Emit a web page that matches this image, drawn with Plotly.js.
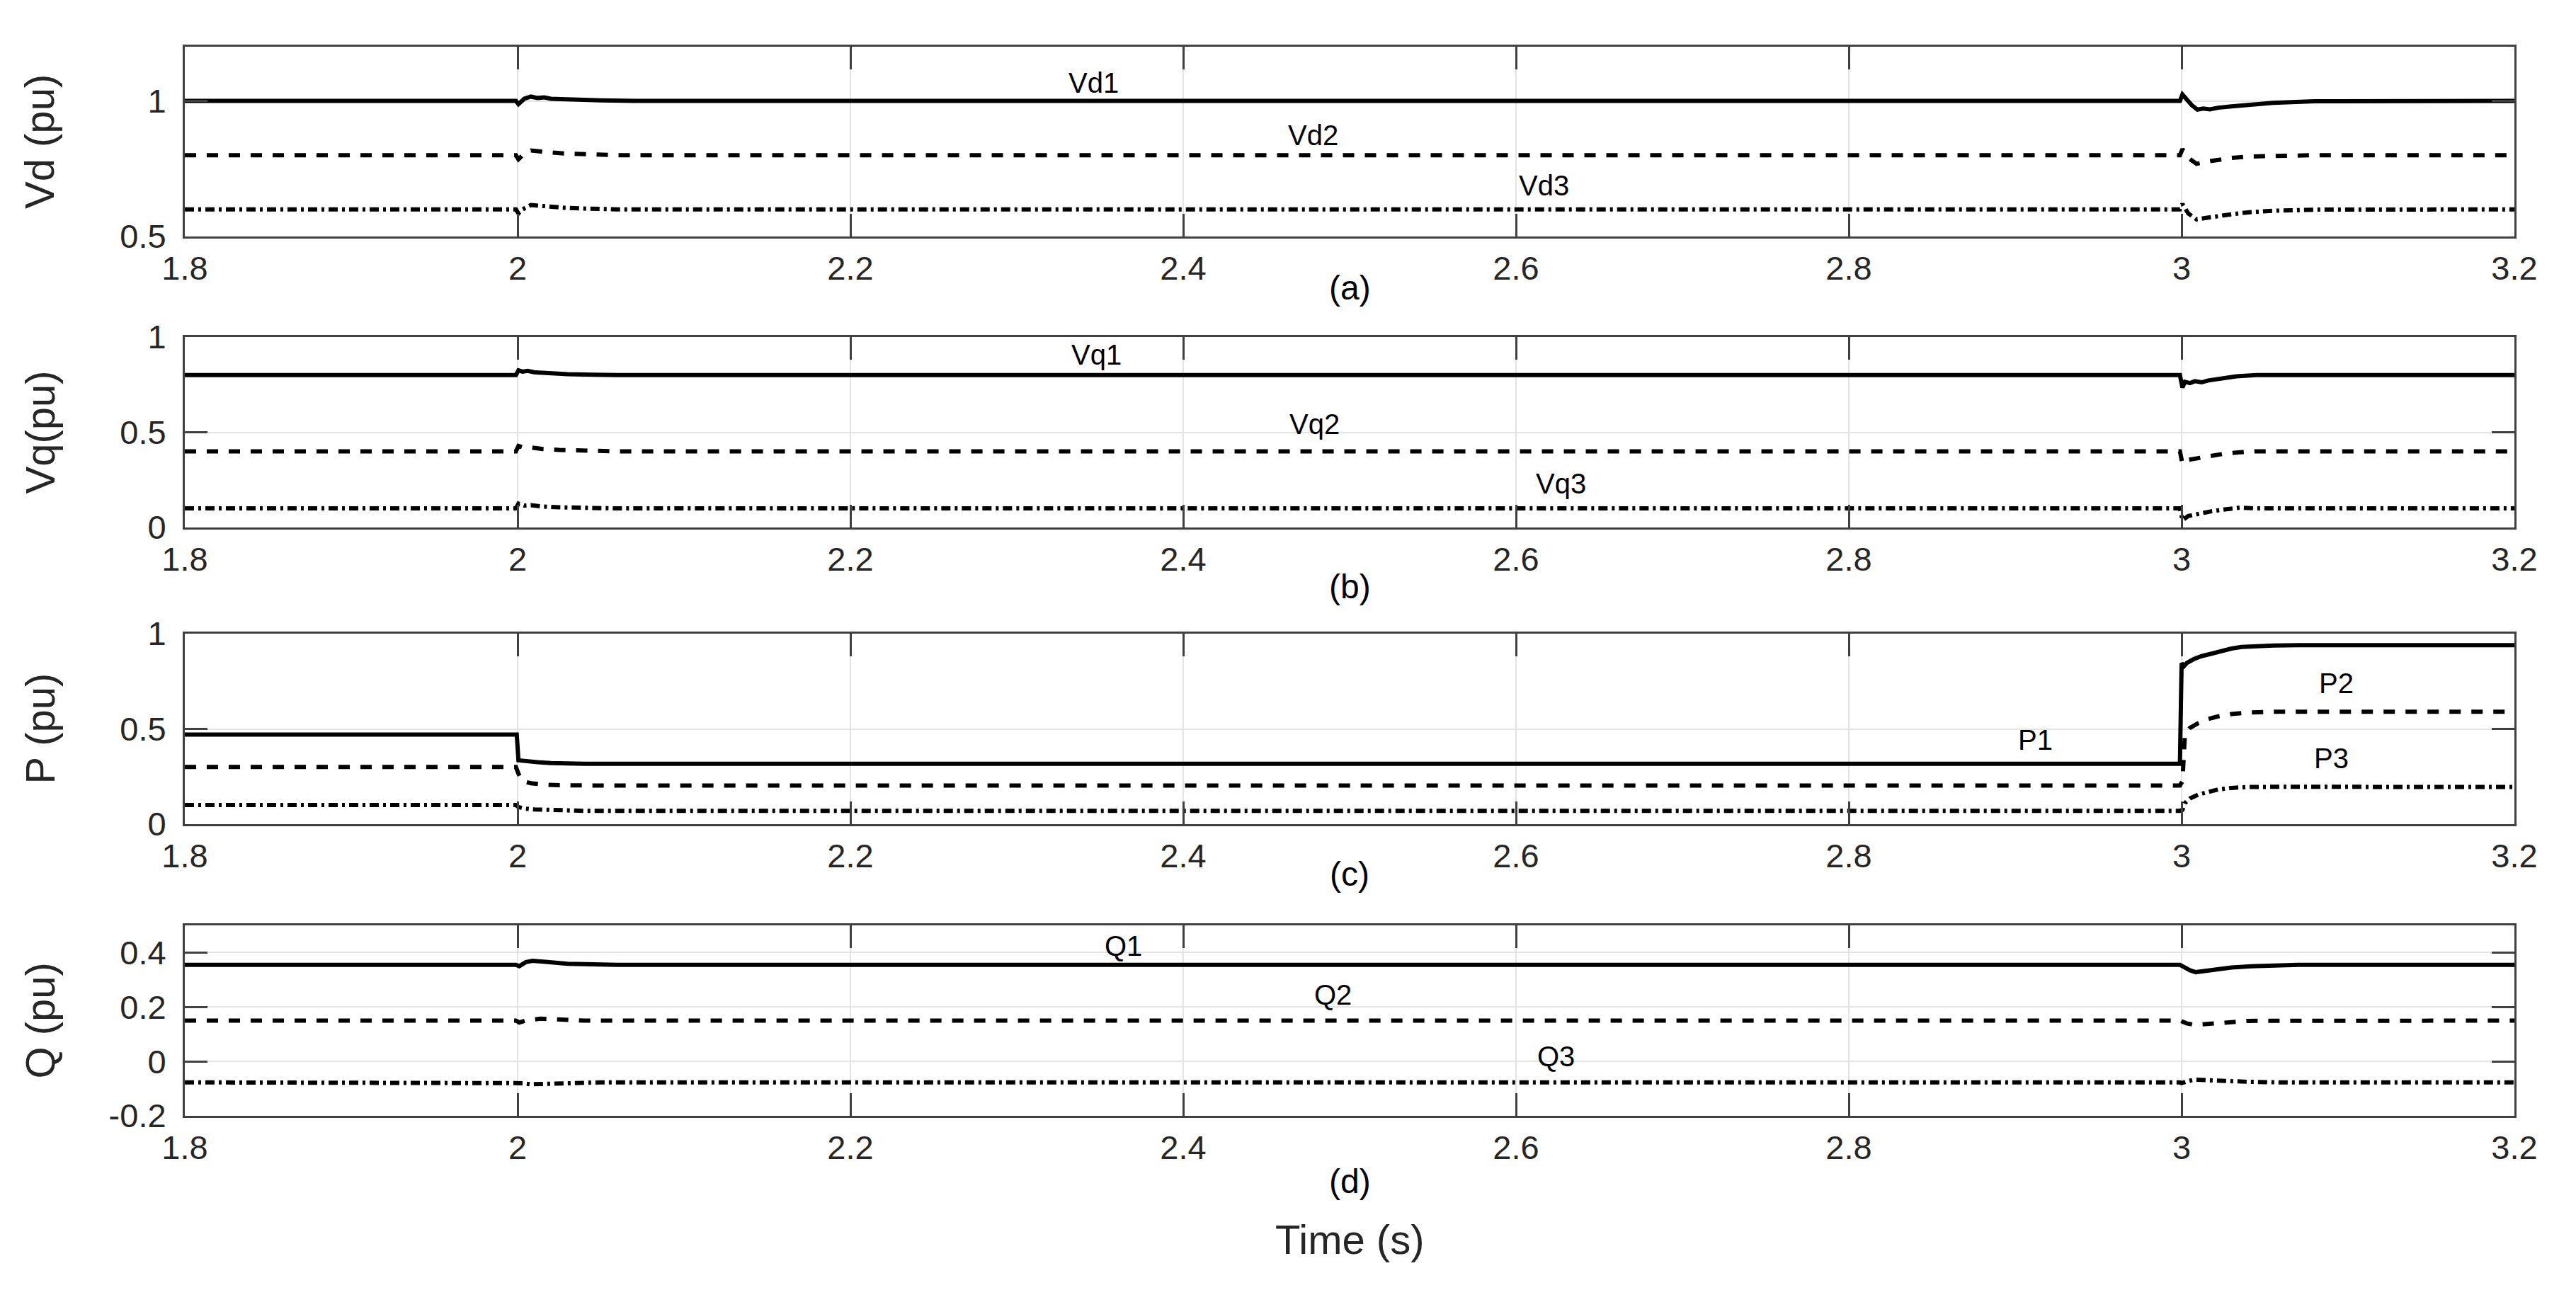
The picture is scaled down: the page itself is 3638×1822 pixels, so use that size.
<!DOCTYPE html>
<html>
<head>
<meta charset="utf-8">
<script src="https://cdn.plot.ly/plotly-3.0.1.min.js"></script>
<style>html,body{margin:0;padding:0;background:#fff;}#chart{width:3638px;height:1822px;}</style>
</head>
<body>
<div id="chart"></div>
<script>
// ---------------- DATA ----------------
const xTickVals = [1.8, 2, 2.2, 2.4, 2.6, 2.8, 3, 3.2];
const xTickText = ['1.8', '2', '2.2', '2.4', '2.6', '2.8', '3', '3.2'];
const yTickValsA = [0.5, 1];
const yTickTextA = ['0.5', '1'];
const yTickValsB = [0, 0.5, 1];
const yTickTextB = ['0', '0.5', '1'];
const yTickValsC = [0, 0.5, 1];
const yTickTextC = ['0', '0.5', '1'];
const yTickValsD = [-0.2, 0, 0.2, 0.4];
const yTickTextD = ['-0.2', '0', '0.2', '0.4'];

// (a) Vd
const tVd1 = [1.8, 1.999, 2.0005, 2.004, 2.008, 2.012, 2.016, 2.02, 2.026, 2.035, 2.05, 2.07, 2.999, 3.0005, 3.003, 3.006, 3.0095, 3.013, 3.017, 3.022, 3.03, 3.04, 3.055, 3.08, 3.2];
const vd1  = [1.0, 1.0, 0.988, 1.008, 1.016, 1.011, 1.013, 1.008, 1.007, 1.004, 1.002, 1.0, 1.0, 1.024, 1.005, 0.985, 0.968, 0.972, 0.969, 0.975, 0.98, 0.986, 0.993, 0.999, 1.0];
const tVd23 = [1.8, 1.999, 2.0005, 2.003, 2.008, 2.014, 2.02, 2.028, 2.04, 2.06, 2.999, 3.0005, 3.004, 3.009, 3.014, 3.02, 3.03, 3.04, 3.055, 3.08, 3.2];
const vd2  = [0.8, 0.8, 0.785, 0.8, 0.817, 0.812, 0.81, 0.806, 0.803, 0.8, 0.8, 0.822, 0.79, 0.768, 0.775, 0.782, 0.79, 0.795, 0.798, 0.8, 0.8];
const vd3  = [0.6, 0.6, 0.585, 0.6, 0.616, 0.612, 0.609, 0.606, 0.603, 0.6, 0.6, 0.62, 0.585, 0.563, 0.568, 0.574, 0.582, 0.589, 0.595, 0.599, 0.6];

// (b) Vq
const tVq1 = [1.8, 1.999, 2.0005, 2.003, 2.006, 2.01, 2.015, 2.02, 2.03, 2.045, 2.06, 2.999, 3.0005, 3.002, 3.005, 3.008, 3.012, 3.016, 3.02, 3.026, 3.033, 3.045, 3.2];
const vq1  = [0.8, 0.8, 0.825, 0.818, 0.822, 0.815, 0.812, 0.808, 0.805, 0.802, 0.8, 0.8, 0.735, 0.765, 0.758, 0.768, 0.762, 0.772, 0.776, 0.786, 0.794, 0.8, 0.8];
const tVq23 = [1.8, 1.999, 2.0005, 2.004, 2.008, 2.015, 2.025, 2.04, 2.06, 2.999, 3.0005, 3.004, 3.01, 3.018, 3.026, 3.035, 3.045, 3.2];
const vq2  = [0.4, 0.4, 0.428, 0.418, 0.42, 0.412, 0.407, 0.403, 0.4, 0.4, 0.335, 0.355, 0.365, 0.378, 0.388, 0.395, 0.4, 0.4];
const vq3  = [0.1, 0.1, 0.125, 0.115, 0.117, 0.11, 0.106, 0.102, 0.1, 0.1, 0.038, 0.06, 0.072, 0.085, 0.095, 0.104, 0.1, 0.1];

// (c) P
const tP1 = [1.8, 1.9995, 2.0005, 2.005, 2.012, 2.02, 2.03, 2.04, 2.999, 3.0, 3.0015, 3.003, 3.007, 3.012, 3.018, 3.024, 3.03, 3.036, 3.045, 3.055, 3.07, 3.2];
const p1  = [0.47, 0.47, 0.335, 0.33, 0.325, 0.321, 0.318, 0.317, 0.317, 0.845, 0.83, 0.845, 0.865, 0.882, 0.895, 0.91, 0.922, 0.93, 0.935, 0.938, 0.94, 0.94];
const tP2 = [1.8, 1.999, 2.0005, 2.003, 2.008, 2.015, 2.025, 2.04, 2.999, 3.0005, 3.002, 3.005, 3.01, 3.016, 3.022, 3.03, 3.04, 3.055, 3.2];
const p2  = [0.3, 0.3, 0.265, 0.225, 0.215, 0.208, 0.204, 0.203, 0.203, 0.225, 0.47, 0.505, 0.53, 0.552, 0.566, 0.578, 0.586, 0.59, 0.59];
const tP3 = [1.8, 1.999, 2.0005, 2.004, 2.01, 2.02, 2.03, 2.04, 2.999, 3.0005, 3.002, 3.005, 3.01, 3.016, 3.022, 3.03, 3.04, 3.06, 3.2];
const p3  = [0.1, 0.1, 0.09, 0.082, 0.077, 0.073, 0.071, 0.07, 0.07, 0.075, 0.11, 0.135, 0.155, 0.17, 0.182, 0.19, 0.195, 0.196, 0.195];

// (d) Q
const tQ1 = [1.8, 1.999, 2.001, 2.005, 2.009, 2.015, 2.022, 2.03, 2.045, 2.06, 2.999, 3.002, 3.005, 3.0085, 3.014, 3.02, 3.03, 3.042, 3.055, 3.07, 3.2];
const q1  = [0.355, 0.355, 0.35, 0.365, 0.37, 0.366, 0.362, 0.359, 0.357, 0.355, 0.355, 0.345, 0.335, 0.328, 0.333, 0.339, 0.345, 0.35, 0.353, 0.355, 0.355];
const tQ2 = [1.8, 1.999, 2.001, 2.006, 2.014, 2.025, 2.04, 2.999, 3.003, 3.008, 3.015, 3.025, 3.04, 3.2];
const q2  = [0.15, 0.15, 0.143, 0.152, 0.157, 0.153, 0.15, 0.15, 0.14, 0.134, 0.138, 0.144, 0.149, 0.15];
const tQ3 = [1.8, 1.999, 2.003, 2.008, 2.02, 2.035, 2.05, 2.999, 3.0, 3.004, 3.008, 3.015, 3.025, 3.04, 3.06, 3.2];
const q3  = [-0.077, -0.077, -0.08, -0.084, -0.082, -0.079, -0.077, -0.077, -0.08, -0.072, -0.067, -0.069, -0.072, -0.075, -0.077, -0.077];

// curve labels: [text, x, y]
const labelsA = [['Vd1', 2.346, 1.066], ['Vd2', 2.478, 0.873], ['Vd3', 2.617, 0.688]];
const labelsB = [['Vq1', 2.348, 0.907], ['Vq2', 2.479, 0.541], ['Vq3', 2.627, 0.23]];
const labelsC = [['P1', 2.912, 0.4425], ['P2', 3.093, 0.74], ['P3', 3.09, 0.344]];
const labelsD = [['Q1', 2.364, 0.425], ['Q2', 2.49, 0.244], ['Q3', 2.624, 0.019]];

const panelTags = ['(a)', '(b)', '(c)', '(d)'];
const yTitles = ['Vd (pu)', 'Vq(pu)', 'P (pu)', 'Q (pu)'];
const xTitle = 'Time (s)';

// ---------------- LAYOUT ----------------
const W = 3638, H = 1822;
const FONT = 'Liberation Sans, Arial, Helvetica, sans-serif';
const INK = '#262626';
const xDom = [261 / W, 3551 / W];
const panelPx = [[66, 334], [476, 745], [895, 1164], [1307, 1576]];
const tagPx = [406, 828, 1234, 1668];
const yDom = panelPx.map(p => [1 - p[1] / H, 1 - p[0] / H]);

const SOLID = {color: '#000', width: 6, dash: 'solid'};
const DASH = {color: '#000', width: 6, dash: '16px,15px'};
const DASHDOT = {color: '#000', width: 6, dash: '13px,6px,4px,6px'};

function tr(x, y, line, i) {
  const s = i === 1 ? '' : String(i);
  return {x: x, y: y, type: 'scatter', mode: 'lines', line: line, xaxis: 'x' + s, yaxis: 'y' + s, showlegend: false, hoverinfo: 'skip'};
}

const traces = [
  tr(tVd1, vd1, SOLID, 1), tr(tVd23, vd2, DASH, 1), tr(tVd23, vd3, DASHDOT, 1),
  tr(tVq1, vq1, SOLID, 2), tr(tVq23, vq2, DASH, 2), tr(tVq23, vq3, DASHDOT, 2),
  tr(tP1, p1, SOLID, 3), tr(tP2, p2, DASH, 3), tr(tP3, p3, DASHDOT, 3),
  tr(tQ1, q1, SOLID, 4), tr(tQ2, q2, DASH, 4), tr(tQ3, q3, DASHDOT, 4)
];

const axBase = {
  showline: true, linecolor: '#404040', linewidth: 3, mirror: 'ticks',
  ticks: 'inside', ticklen: 32, tickwidth: 3, tickcolor: '#404040',
  showgrid: true, gridcolor: '#e4e4e4', gridwidth: 2, zeroline: false,
  tickfont: {family: FONT, size: 47, color: INK}, fixedrange: true
};

const yRanges = [[0.5, 1.2], [0, 1], [0, 1], [-0.2, 0.5]];
const yTV = [yTickValsA, yTickValsB, yTickValsC, yTickValsD];
const yTT = [yTickTextA, yTickTextB, yTickTextC, yTickTextD];

const layout = {
  width: W, height: H,
  margin: {l: 0, r: 0, t: 0, b: 0},
  paper_bgcolor: '#fff', plot_bgcolor: '#fff',
  showlegend: false,
  annotations: [],
  font: {family: FONT, color: INK}
};

for (let i = 0; i < 4; i++) {
  const s = i === 0 ? '' : String(i + 1);
  layout['xaxis' + s] = Object.assign({}, axBase, {
    domain: xDom, range: [1.8, 3.2], anchor: 'y' + s,
    tickmode: 'array', tickvals: xTickVals, ticktext: xTickText,
    ticklabelstandoff: 2
  });
  layout['yaxis' + s] = Object.assign({}, axBase, {
    domain: yDom[i], range: yRanges[i], anchor: 'x' + s,
    tickmode: 'array', tickvals: yTV[i], ticktext: yTT[i],
    ticklabelstandoff: 14
  });
  layout.annotations.push({
    text: panelTags[i], xref: 'paper', yref: 'paper',
    x: (xDom[0] + xDom[1]) / 2, y: 1 - tagPx[i] / H,
    xanchor: 'center', yanchor: 'middle', showarrow: false,
    font: {family: FONT, size: 48, color: '#000'}
  });
  layout.annotations.push({
    text: yTitles[i], xref: 'paper', yref: 'paper',
    x: 56 / W, y: (yDom[i][0] + yDom[i][1]) / 2, textangle: -90,
    xanchor: 'center', yanchor: 'middle', showarrow: false,
    font: {family: FONT, size: 58, color: INK}
  });
}

const allLabels = [labelsA, labelsB, labelsC, labelsD];
allLabels.forEach((arr, i) => {
  const s = i === 0 ? '' : String(i + 1);
  arr.forEach(l => {
    layout.annotations.push({
      text: l[0], x: l[1], y: l[2], xref: 'x' + s, yref: 'y' + s,
      xanchor: 'center', yanchor: 'middle', showarrow: false,
      font: {family: FONT, size: 40, color: '#000'}
    });
  });
});

layout.annotations.push({
  text: xTitle, xref: 'paper', yref: 'paper',
  x: (xDom[0] + xDom[1]) / 2, y: 1 - 1750 / H,
  xanchor: 'center', yanchor: 'middle', showarrow: false,
  font: {family: FONT, size: 58, color: INK}
});

Plotly.newPlot('chart', traces, layout, {staticPlot: true, displayModeBar: false});
</script>
</body>
</html>
